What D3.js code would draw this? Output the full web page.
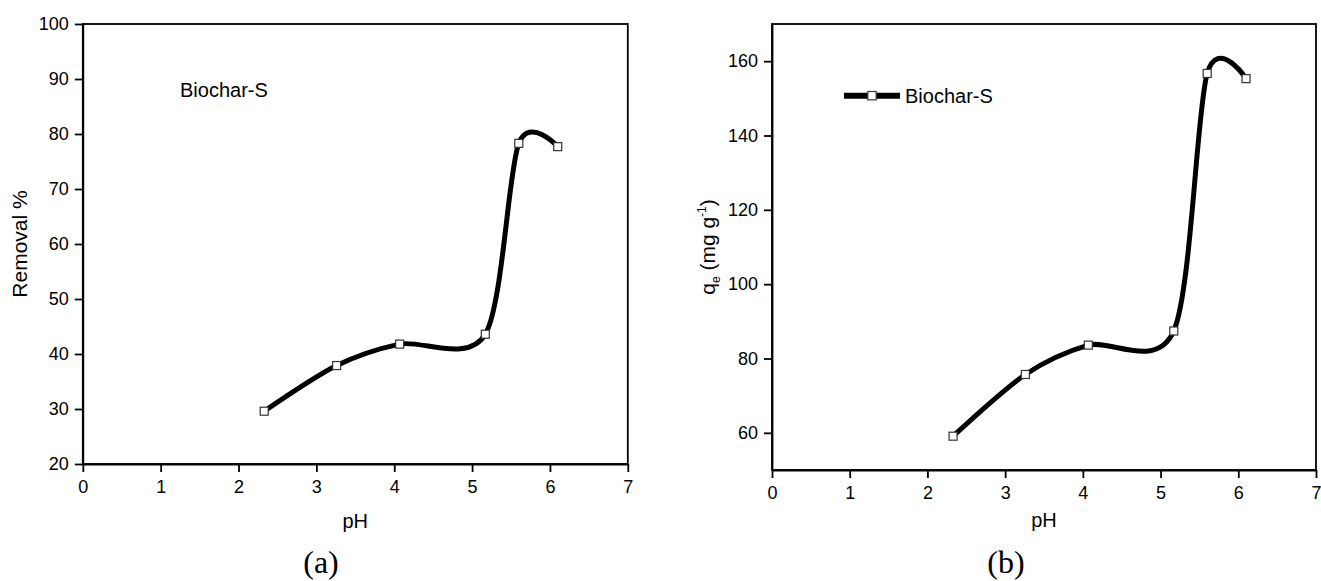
<!DOCTYPE html>
<html>
<head>
<meta charset="utf-8">
<script src="https://cdn.jsdelivr.net/npm/d3@7"></script>
<style>
  html, body { margin: 0; padding: 0; background: #fff; }
  svg { display: block; }
  .tick text { font-family: Arial, "Liberation Sans", sans-serif; }
</style>
</head>
<body>
<svg id="chart" width="1321" height="581"></svg>
<script>
// ---- data ----
const pH = [2.33, 3.26, 4.07, 5.17, 5.60, 6.10];
const removal = [29.6, 37.9, 41.8, 43.6, 78.3, 77.7];
const qe = [59.1, 75.7, 83.6, 87.4, 156.7, 155.3];
const xTicks = [0, 1, 2, 3, 4, 5, 6, 7];
const yTicksA = [20, 30, 40, 50, 60, 70, 80, 90, 100];
const yTicksB = [60, 80, 100, 120, 140, 160];
const seriesName = "Biochar-S";

const svg = d3.select("#chart");
const FONT = 'Arial, "Liberation Sans", sans-serif';

function panel(opt) {
  const g = svg.append("g");
  const x = d3.scaleLinear().domain([0, 7]).range([opt.x0, opt.x1]);
  const y = d3.scaleLinear().domain(opt.yDomain).range([opt.y1, opt.y0]);

  g.append("rect")
    .attr("x", opt.x0).attr("y", opt.y0)
    .attr("width", opt.x1 - opt.x0).attr("height", opt.y1 - opt.y0)
    .attr("fill", "none").attr("stroke", "#000").attr("stroke-width", 1.8);

  const xa = g.append("g").attr("transform", `translate(0,${opt.y1})`)
    .call(d3.axisBottom(x).tickValues(xTicks).tickFormat(d3.format("d")).tickSize(8).tickSizeOuter(0).tickPadding(opt.xPad));
  const ya = g.append("g").attr("transform", `translate(${opt.x0},0)`)
    .call(d3.axisLeft(y).tickValues(opt.yTicks).tickFormat(d3.format("d")).tickSize(8).tickSizeOuter(0).tickPadding(6));
  [xa, ya].forEach(a => {
    a.select(".domain").attr("stroke", "#000").attr("stroke-width", 1.8);
    a.selectAll(".tick line").attr("stroke", "#000").attr("stroke-width", 1.8);
    a.selectAll(".tick text").attr("fill", "#000").style("font-size", "18px").style("font-family", FONT);
  });

  const line = d3.line().x((d, i) => x(pH[i])).y(d => y(d)).curve(d3.curveCardinal.tension(0.12));
  g.append("path").datum(opt.values)
    .attr("d", line).attr("fill", "none").attr("stroke", "#000").attr("stroke-width", 5)
    .attr("stroke-linecap", "round");

  const s = 8;
  g.selectAll("rect.m").data(opt.values).enter().append("rect")
    .attr("class", "m")
    .attr("x", (d, i) => x(pH[i]) - s / 2).attr("y", d => y(d) - s / 2)
    .attr("width", s).attr("height", s)
    .attr("fill", "#fff").attr("stroke", "#333").attr("stroke-width", 1.2);

  g.append("text").attr("x", (opt.x0 + opt.x1) / 2).attr("y", opt.xTitleY)
    .attr("text-anchor", "middle").style("font-family", FONT).style("font-size", "20px")
    .text("pH");
  return { g, x, y };
}

// Panel (a)
const A = panel({ x0: 82.8, x1: 627.8, y0: 24, y1: 464, yDomain: [20, 100], yTicks: yTicksA, values: removal, xTitleY: 528, xPad: 8 });
A.g.append("text")
  .attr("transform", `translate(27,244) rotate(-90)`)
  .attr("text-anchor", "middle").style("font-family", FONT).style("font-size", "21px")
  .text("Removal %");
A.g.append("text").attr("x", 180).attr("y", 97)
  .style("font-family", FONT).style("font-size", "20px").text(seriesName);
svg.append("text").attr("x", 321).attr("y", 573).attr("text-anchor", "middle")
  .style("font-family", '"Times New Roman", "Liberation Serif", serif').style("font-size", "32px").text("(a)");

// Panel (b)
const B = panel({ x0: 772, x1: 1316, y0: 24, y1: 470, yDomain: [50, 170], yTicks: yTicksB, values: qe, xTitleY: 527, xPad: 8 });
const qt = B.g.append("text")
  .attr("transform", `translate(715,247) rotate(-90)`)
  .attr("text-anchor", "middle").style("font-family", FONT).style("font-size", "21px");
qt.append("tspan").text("q");
qt.append("tspan").attr("dy", 5).style("font-size", "12px").text("e");
qt.append("tspan").attr("dy", -5).text(" (mg g");
qt.append("tspan").attr("dy", -9).style("font-size", "12px").text("-1");
qt.append("tspan").attr("dy", 9).text(")");

const lg = B.g.append("g");
lg.append("line").attr("x1", 844).attr("x2", 900).attr("y1", 95.7).attr("y2", 95.7)
  .attr("stroke", "#000").attr("stroke-width", 6);
lg.append("rect").attr("x", 872 - 4.2).attr("y", 95.7 - 4.2).attr("width", 8.4).attr("height", 8.4)
  .attr("fill", "#fff").attr("stroke", "#333").attr("stroke-width", 1.2);
lg.append("text").attr("x", 905).attr("y", 102.5)
  .style("font-family", FONT).style("font-size", "20px").text(seriesName);
svg.append("text").attr("x", 1006).attr("y", 573).attr("text-anchor", "middle")
  .style("font-family", '"Times New Roman", "Liberation Serif", serif').style("font-size", "32px").text("(b)");
</script>
</body>
</html>
